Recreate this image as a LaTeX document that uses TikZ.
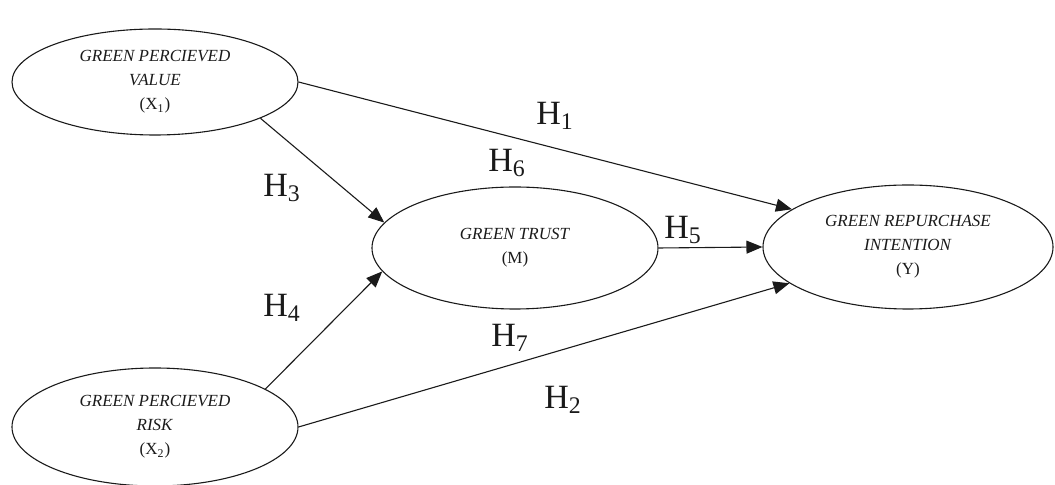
\documentclass[tikz,border=0pt]{standalone}
\usepackage{fontspec}
\setmainfont{Liberation Serif}
\usetikzlibrary{arrows.meta, shapes.geometric}
\definecolor{FigInk}{HTML}{1A1A1A}

\begin{document}
\begin{tikzpicture}[x=0.5pt, y=-0.5pt, >={Triangle[length=8pt, width=6.5pt]},
  construct/.style={draw=FigInk, ellipse, inner sep=0pt, line width=0.55pt,
    align=center, font=\fontsize{8.5}{12}\selectfont, text=FigInk},
  hyp/.style={font=\fontsize{17}{18}\selectfont, text=FigInk, inner sep=0pt},
  link/.style={->, draw=FigInk, line width=0.55pt}]
\useasboundingbox (0,0) rectangle (1055,485);
% constructs
\node[construct, minimum width=143pt, minimum height=53pt] (x1) at (155,82)
  {\textit{GREEN PERCIEVED}\\\textit{VALUE}\\(X\textsubscript{1})};
\node[construct, minimum width=143pt, minimum height=61pt] (m) at (515,248)
  {\textit{GREEN TRUST}\\(M)};
\node[construct, minimum width=145pt, minimum height=62pt] (y) at (908,247)
  {\textit{GREEN REPURCHASE}\\\textit{INTENTION}\\(Y)};
\node[construct, minimum width=143pt, minimum height=59pt] (x2) at (155,427)
  {\textit{GREEN PERCIEVED}\\\textit{RISK}\\(X\textsubscript{2})};
% paths
\draw[link] (x1.east) -- (y.162);
\draw[link] (x1.-19) -- (m.169);
\draw[link] (m.east) -- (y.west);
\draw[link] (x2.19) -- (m.190);
\draw[link] (x2.east) -- (y.197);
% hypotheses
\node[hyp] (h1) at (555,116) {H\textsubscript{1}};
\node[hyp] (h6) at (507,163) {H\textsubscript{6}};
\node[hyp] (h3) at (282,188) {H\textsubscript{3}};
\node[hyp] (h5) at (683,230) {H\textsubscript{5}};
\node[hyp] (h4) at (282,308) {H\textsubscript{4}};
\node[hyp] (h7) at (510,338) {H\textsubscript{7}};
\node[hyp] (h2) at (563,400) {H\textsubscript{2}};
\end{tikzpicture}
\end{document}
